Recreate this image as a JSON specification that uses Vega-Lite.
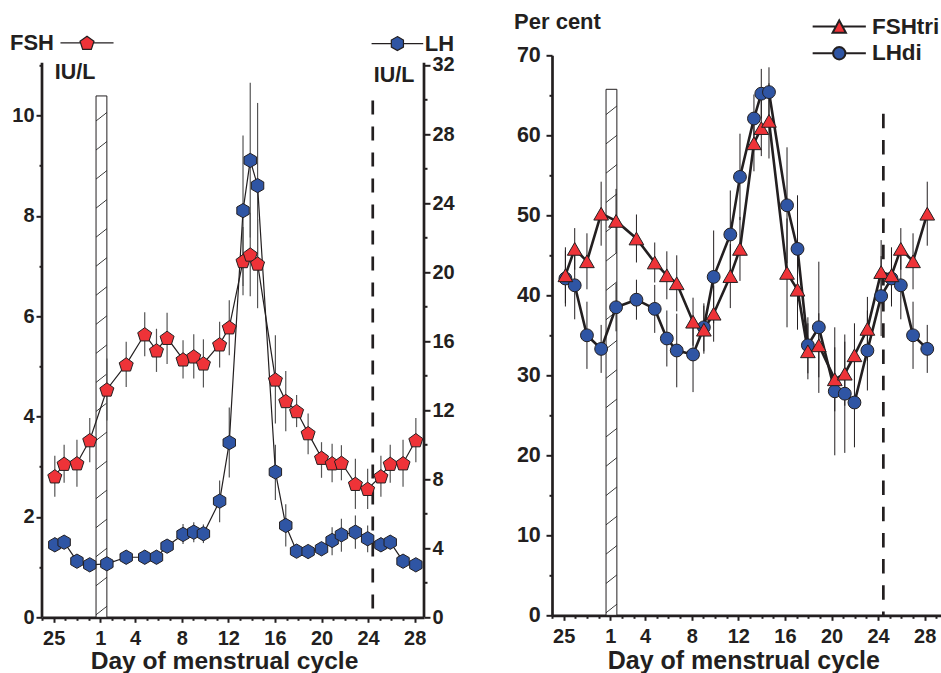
{
  "$schema": "https://vega.github.io/schema/vega-lite/v6.json",
  "padding": {"left": 10, "top": 10.3, "right": 0, "bottom": 0},
  "bounds": "flush",
  "spacing": 128,
  "config": {
    "font": "Liberation Sans",
    "view": {"stroke": null},
    "axis": {"labelFont": "Liberation Sans", "labelFontWeight": "bold", "labelFontSize": 20, "labelColor": "#231f20", "titleFont": "Liberation Sans", "titleFontWeight": "bold", "titleColor": "#231f20", "domainColor": "#231f20", "domainWidth": 2.7, "tickColor": "#231f20", "tickWidth": 2, "grid": false, "labelOverlap": false, "labelFlush": false, "labelBound": false},
    "legend": {"labelFont": "Liberation Sans", "labelFontWeight": "bold", "labelFontSize": 22, "labelColor": "#231f20", "titleFont": "Liberation Sans", "titleFontWeight": "bold", "titleFontSize": 22, "titleColor": "#231f20", "padding": 0, "symbolOpacity": 1}
  },
  "datasets": {
    "left": [
      {"t": -2.9, "fsh": 2.81, "fshLo": 2.40, "fshHi": 3.22, "lh": 4.20, "lhLo": 3.78, "lhHi": 4.62},
      {"t": -2.1, "fsh": 3.06, "fshLo": 2.68, "fshHi": 3.44, "lh": 4.35, "lhLo": 3.95, "lhHi": 4.75},
      {"t": -1.0, "fsh": 3.07, "fshLo": 2.60, "fshHi": 3.54, "lh": 3.25, "lhLo": 2.90, "lhHi": 3.60},
      {"t": 0.1, "fsh": 3.53, "fshLo": 3.09, "fshHi": 3.97, "lh": 3.04, "lhLo": 2.74, "lhHi": 3.34},
      {"t": 1.57, "fsh": 4.54, "fshLo": 3.92, "fshHi": 5.16, "lh": 3.10, "lhLo": 2.80, "lhHi": 3.40},
      {"t": 3.23, "fsh": 5.04, "fshLo": 4.59, "fshHi": 5.49, "lh": 3.48, "lhLo": 3.18, "lhHi": 3.78},
      {"t": 4.82, "fsh": 5.64, "fshLo": 5.20, "fshHi": 6.08, "lh": 3.48, "lhLo": 3.18, "lhHi": 3.78},
      {"t": 5.83, "fsh": 5.32, "fshLo": 4.89, "fshHi": 5.75, "lh": 3.48, "lhLo": 3.13, "lhHi": 3.83},
      {"t": 6.74, "fsh": 5.57, "fshLo": 5.05, "fshHi": 6.07, "lh": 4.12, "lhLo": 3.77, "lhHi": 4.47},
      {"t": 8.11, "fsh": 5.14, "fshLo": 4.76, "fshHi": 5.52, "lh": 4.80, "lhLo": 4.24, "lhHi": 5.40},
      {"t": 9.03, "fsh": 5.20, "fshLo": 4.76, "fshHi": 5.64, "lh": 4.93, "lhLo": 4.35, "lhHi": 5.51},
      {"t": 9.86, "fsh": 5.06, "fshLo": 4.58, "fshHi": 5.54, "lh": 4.84, "lhLo": 4.30, "lhHi": 5.38},
      {"t": 11.25, "fsh": 5.44, "fshLo": 4.98, "fshHi": 5.89, "lh": 6.73, "lhLo": 5.51, "lhHi": 7.93},
      {"t": 12.08, "fsh": 5.78, "fshLo": 5.22, "fshHi": 6.32, "lh": 10.12, "lhLo": 8.10, "lhHi": 12.15},
      {"t": 13.26, "fsh": 7.10, "fshLo": 6.42, "fshHi": 7.78, "lh": 23.56, "lhLo": 19.2, "lhHi": 27.92},
      {"t": 13.88, "fsh": 7.23, "fshLo": 6.40, "fshHi": 8.06, "lh": 26.47, "lhLo": 22.0, "lhHi": 30.97},
      {"t": 14.51, "fsh": 7.05, "fshLo": 6.16, "fshHi": 7.94, "lh": 25.01, "lhLo": 20.2, "lhHi": 29.8},
      {"t": 16.04, "fsh": 4.74, "fshLo": 3.86, "fshHi": 5.62, "lh": 8.42, "lhLo": 6.8, "lhHi": 10.0},
      {"t": 16.93, "fsh": 4.31, "fshLo": 3.71, "fshHi": 4.91, "lh": 5.32, "lhLo": 4.1, "lhHi": 6.55},
      {"t": 17.86, "fsh": 4.11, "fshLo": 3.79, "fshHi": 4.43, "lh": 3.83, "lhLo": 3.50, "lhHi": 4.16},
      {"t": 18.85, "fsh": 3.67, "fshLo": 3.25, "fshHi": 4.06, "lh": 3.81, "lhLo": 3.48, "lhHi": 4.14},
      {"t": 20.0, "fsh": 3.18, "fshLo": 2.78, "fshHi": 3.49, "lh": 3.97, "lhLo": 3.60, "lhHi": 4.34},
      {"t": 20.91, "fsh": 3.07, "fshLo": 2.69, "fshHi": 3.46, "lh": 4.45, "lhLo": 3.60, "lhHi": 5.22},
      {"t": 21.71, "fsh": 3.08, "fshLo": 2.73, "fshHi": 3.43, "lh": 4.78, "lhLo": 3.80, "lhHi": 5.71},
      {"t": 22.91, "fsh": 2.66, "fshLo": 2.16, "fshHi": 3.16, "lh": 4.93, "lhLo": 3.97, "lhHi": 5.90},
      {"t": 23.96, "fsh": 2.56, "fshLo": 2.16, "fshHi": 2.96, "lh": 4.55, "lhLo": 3.77, "lhHi": 5.32},
      {"t": 25.1, "fsh": 2.81, "fshLo": 2.40, "fshHi": 3.22, "lh": 4.20, "lhLo": 3.78, "lhHi": 4.62},
      {"t": 25.9, "fsh": 3.06, "fshLo": 2.68, "fshHi": 3.44, "lh": 4.35, "lhLo": 3.95, "lhHi": 4.75},
      {"t": 27.0, "fsh": 3.07, "fshLo": 2.60, "fshHi": 3.54, "lh": 3.25, "lhLo": 2.90, "lhHi": 3.60},
      {"t": 28.1, "fsh": 3.53, "fshLo": 3.09, "fshHi": 3.97, "lh": 3.04, "lhLo": 2.74, "lhHi": 3.34}
    ],
    "right": [
      {"t": -2.85, "tri": 42.5, "triLo": 39.0, "triHi": 46.0, "di": 42.1, "diLo": 38.6, "diHi": 45.6},
      {"t": -2.05, "tri": 45.8, "triLo": 43.2, "triHi": 48.4, "di": 41.25, "diLo": 37.0, "diHi": 45.5},
      {"t": -1.0, "tri": 44.25, "triLo": 40.75, "triHi": 47.75, "di": 35.0, "diLo": 30.8, "diHi": 39.2},
      {"t": 0.22, "tri": 50.2, "triLo": 46.2, "triHi": 54.2, "di": 33.3, "diLo": 30.3, "diHi": 36.3},
      {"t": 1.5, "tri": 49.3, "triLo": 45.3, "triHi": 53.3, "di": 38.5, "diLo": 35.5, "diHi": 41.5},
      {"t": 3.25, "tri": 47.1, "triLo": 44.1, "triHi": 50.1, "di": 39.45, "diLo": 36.95, "diHi": 41.95},
      {"t": 4.82, "tri": 44.1, "triLo": 41.6, "triHi": 46.6, "di": 38.3, "diLo": 35.3, "diHi": 41.3},
      {"t": 5.86, "tri": 42.5, "triLo": 39.5, "triHi": 45.5, "di": 34.6, "diLo": 31.1, "diHi": 38.1},
      {"t": 6.71, "tri": 41.5, "triLo": 38.0, "triHi": 45.0, "di": 33.1, "diLo": 28.5, "diHi": 37.7},
      {"t": 8.11, "tri": 36.7, "triLo": 33.7, "triHi": 39.7, "di": 32.6, "diLo": 27.9, "diHi": 37.3},
      {"t": 9.04, "tri": 35.7, "triLo": 32.7, "triHi": 38.7, "di": 36.0, "diLo": 33.0, "diHi": 39.0},
      {"t": 9.88, "tri": 37.7, "triLo": 34.2, "triHi": 41.2, "di": 42.3, "diLo": 36.5, "diHi": 48.1},
      {"t": 11.31, "tri": 42.4, "triLo": 38.4, "triHi": 46.4, "di": 47.6, "diLo": 42.1, "diHi": 53.1},
      {"t": 12.14, "tri": 45.8, "triLo": 41.8, "triHi": 49.8, "di": 54.8, "diLo": 49.4, "diHi": 60.2},
      {"t": 13.34, "tri": 59.0, "triLo": 55.5, "triHi": 62.5, "di": 62.1, "diLo": 59.1, "diHi": 65.1},
      {"t": 13.97, "tri": 60.9, "triLo": 57.4, "triHi": 64.4, "di": 65.2, "diLo": 62.1, "diHi": 68.3},
      {"t": 14.63, "tri": 61.8, "triLo": 57.1, "triHi": 66.5, "di": 65.4, "diLo": 62.3, "diHi": 68.5},
      {"t": 16.18, "tri": 42.8, "triLo": 36.0, "triHi": 49.6, "di": 51.25, "diLo": 44.0, "diHi": 58.5},
      {"t": 17.08, "tri": 40.7, "triLo": 35.7, "triHi": 45.7, "di": 45.8, "diLo": 39.1, "diHi": 52.5},
      {"t": 17.97, "tri": 33.0, "triLo": 29.5, "triHi": 36.5, "di": 33.75, "diLo": 30.25, "diHi": 37.25},
      {"t": 18.91, "tri": 33.75, "triLo": 29.75, "triHi": 37.75, "di": 36.0, "diLo": 27.8, "diHi": 44.2},
      {"t": 20.28, "tri": 29.5, "triLo": 25.5, "triHi": 33.5, "di": 28.0, "diLo": 20.0, "diHi": 36.0},
      {"t": 21.14, "tri": 30.2, "triLo": 26.2, "triHi": 34.2, "di": 27.7, "diLo": 20.3, "diHi": 35.1},
      {"t": 21.97, "tri": 32.5, "triLo": 28.5, "triHi": 36.5, "di": 26.6, "diLo": 21.0, "diHi": 32.2},
      {"t": 23.08, "tri": 35.8, "triLo": 31.8, "triHi": 39.8, "di": 33.1, "diLo": 28.1, "diHi": 38.1},
      {"t": 24.26, "tri": 42.9, "triLo": 38.9, "triHi": 46.9, "di": 39.9, "diLo": 34.9, "diHi": 44.9},
      {"t": 25.15, "tri": 42.5, "triLo": 39.0, "triHi": 46.0, "di": 42.1, "diLo": 38.6, "diHi": 45.6},
      {"t": 25.95, "tri": 45.8, "triLo": 43.2, "triHi": 48.4, "di": 41.25, "diLo": 37.0, "diHi": 45.5},
      {"t": 27.0, "tri": 44.25, "triLo": 40.75, "triHi": 47.75, "di": 35.0, "diLo": 30.8, "diHi": 39.2},
      {"t": 28.22, "tri": 50.2, "triLo": 46.2, "triHi": 54.2, "di": 33.3, "diLo": 30.3, "diHi": 36.3}
    ]
  },
  "hconcat": [
    {
      "width": 382,
      "height": 562,
      "encoding": {
        "x": {"field": "t", "type": "quantitative", "scale": {"domain": [-4, 28.8], "nice": false, "zero": false},
          "axis": {"values": [-4,-3,-2,-1,0,1,2,3,4,5,6,7,8,9,10,11,12,13,14,15,16,17,18,19,20,21,22,23,24,25,26,27,28],
            "labelExpr": "datum.value === -3 ? '25' : ((datum.value === 1 || (datum.value > 0 && datum.value % 4 === 0)) ? datum.label : '')",
            "tickSize": {"condition": {"test": "datum.value === -3 || datum.value === 1 || (datum.value > 0 && datum.value % 4 === 0)", "value": 5}, "value": 3},
            "labelPadding": 6, "title": "Day of menstrual cycle", "titleFontSize": 24.6, "titleX": 182, "titleY": 51.5, "titleBaseline": "alphabetic", "titleAlign": "center"}}
      },
      "layer": [
        {
          "data": {"values": [{"t": 0.64, "end": 1.57, "top": 10.39}]},
          "mark": {"type": "rect", "stroke": "#231f20", "strokeWidth": 1,
            "fill": {"gradient": "linear", "x1": 0, "y1": 0, "x2": 0.0163, "y2": 1, "stops": [
              {"offset": 0, "color": "#ffffff"},
              {"offset": 0.0462, "color": "#ffffff"}, {"offset": 0.048, "color": "#333333"}, {"offset": 0.0498, "color": "#ffffff"},
              {"offset": 0.1019, "color": "#ffffff"}, {"offset": 0.1037, "color": "#333333"}, {"offset": 0.1055, "color": "#ffffff"},
              {"offset": 0.1576, "color": "#ffffff"}, {"offset": 0.1594, "color": "#333333"}, {"offset": 0.1612, "color": "#ffffff"},
              {"offset": 0.2133, "color": "#ffffff"}, {"offset": 0.2151, "color": "#333333"}, {"offset": 0.2169, "color": "#ffffff"},
              {"offset": 0.269, "color": "#ffffff"}, {"offset": 0.2708, "color": "#333333"}, {"offset": 0.2726, "color": "#ffffff"},
              {"offset": 0.3247, "color": "#ffffff"}, {"offset": 0.3265, "color": "#333333"}, {"offset": 0.3283, "color": "#ffffff"},
              {"offset": 0.3804, "color": "#ffffff"}, {"offset": 0.3822, "color": "#333333"}, {"offset": 0.384, "color": "#ffffff"},
              {"offset": 0.4361, "color": "#ffffff"}, {"offset": 0.4379, "color": "#333333"}, {"offset": 0.4397, "color": "#ffffff"},
              {"offset": 0.4918, "color": "#ffffff"}, {"offset": 0.4936, "color": "#333333"}, {"offset": 0.4954, "color": "#ffffff"},
              {"offset": 0.5475, "color": "#ffffff"}, {"offset": 0.5493, "color": "#333333"}, {"offset": 0.5511, "color": "#ffffff"},
              {"offset": 0.6032, "color": "#ffffff"}, {"offset": 0.605, "color": "#333333"}, {"offset": 0.6068, "color": "#ffffff"},
              {"offset": 0.6589, "color": "#ffffff"}, {"offset": 0.6607, "color": "#333333"}, {"offset": 0.6625, "color": "#ffffff"},
              {"offset": 0.7146, "color": "#ffffff"}, {"offset": 0.7164, "color": "#333333"}, {"offset": 0.7182, "color": "#ffffff"},
              {"offset": 0.7703, "color": "#ffffff"}, {"offset": 0.7721, "color": "#333333"}, {"offset": 0.7739, "color": "#ffffff"},
              {"offset": 0.826, "color": "#ffffff"}, {"offset": 0.8278, "color": "#333333"}, {"offset": 0.8296, "color": "#ffffff"},
              {"offset": 0.8817, "color": "#ffffff"}, {"offset": 0.8835, "color": "#333333"}, {"offset": 0.8853, "color": "#ffffff"},
              {"offset": 0.9374, "color": "#ffffff"}, {"offset": 0.9392, "color": "#333333"}, {"offset": 0.941, "color": "#ffffff"},
              {"offset": 0.9931, "color": "#ffffff"}, {"offset": 0.9949, "color": "#333333"}, {"offset": 0.9967, "color": "#ffffff"},
              {"offset": 1, "color": "#ffffff"}]}},
          "encoding": {
            "x2": {"field": "end"},
            "y": {"field": "top", "type": "quantitative", "scale": {"domain": [0, 11.2], "nice": false, "zero": false}, "axis": null},
            "y2": {"datum": 0}
          }
        },
        {
          "data": {"values": [{"t": 24.4, "top": 10.3}]},
          "mark": {"type": "rule", "stroke": "#231f20", "strokeWidth": 2.7, "strokeDash": [14, 12]},
          "encoding": {
            "y": {"field": "top", "type": "quantitative", "scale": {"domain": [0, 11.2], "nice": false, "zero": false}, "axis": null},
            "y2": {"datum": 0}
          }
        },
        {
          "data": {"values": [{"t": -4, "top": 11.05}, {"t": 28.8, "top": 11.05}]},
          "mark": {"type": "rule", "stroke": "#231f20", "strokeWidth": 2.7},
          "encoding": {
            "y": {"field": "top", "type": "quantitative", "scale": {"domain": [0, 11.2], "nice": false, "zero": false}, "axis": null},
            "y2": {"datum": 0}
          }
        },
        {
          "data": {"name": "left"},
          "mark": {"type": "rule", "stroke": "#555555", "strokeWidth": 1.2},
          "encoding": {
            "y": {"field": "fshLo", "type": "quantitative", "scale": {"domain": [0, 11.2], "nice": false, "zero": false}, "axis": null},
            "y2": {"field": "fshHi"}
          }
        },
        {
          "data": {"name": "left"},
          "mark": {"type": "rule", "stroke": "#555555", "strokeWidth": 1.2},
          "encoding": {
            "y": {"field": "lhLo", "type": "quantitative", "scale": {"domain": [0, 32.56], "nice": false, "zero": false}, "axis": null},
            "y2": {"field": "lhHi"}
          }
        },
        {
          "data": {"name": "left"},
          "mark": {"type": "line", "stroke": "#231f20", "strokeWidth": 1.2},
          "encoding": {
            "y": {"field": "fsh", "type": "quantitative", "scale": {"domain": [0, 11.2], "nice": false, "zero": false}, "axis": null}
          }
        },
        {
          "data": {"name": "left"},
          "mark": {"type": "line", "stroke": "#231f20", "strokeWidth": 1.2},
          "encoding": {
            "y": {"field": "lh", "type": "quantitative", "scale": {"domain": [0, 32.56], "nice": false, "zero": false}, "axis": null}
          }
        },
        {
          "data": {"name": "left"},
          "mark": {"type": "point", "shape": "M0,-1L0.866,-0.5L0.866,0.5L0,1L-0.866,0.5L-0.866,-0.5Z", "size": 205, "filled": true, "fill": "#2f55a4", "stroke": "#231f20", "strokeWidth": 1, "opacity": 1},
          "encoding": {
            "y": {"field": "lh", "type": "quantitative", "scale": {"domain": [0, 32.56], "nice": false, "zero": false},
              "axis": {"orient": "right", "values": [0,2,4,6,8,10,12,14,16,18,20,22,24,26,28,30,32],
                "labelExpr": "datum.value % 4 === 0 ? datum.label : ''",
                "tickSize": {"condition": {"test": "datum.value % 4 === 0", "value": 6}, "value": 3},
                "labelPadding": 2, "domain": false, "title": "IU/L", "titleAngle": 0, "titleAlign": "left", "titleBaseline": "alphabetic", "titleX": -50.7, "titleY": 26.7, "titleFontSize": 21.5}}
          }
        },
        {
          "data": {"name": "left"},
          "mark": {"type": "point", "shape": "M0,-0.905L0.951,-0.214L0.588,0.904L-0.588,0.904L-0.951,-0.214Z", "size": 217, "filled": true, "fill": "#ee3338", "stroke": "#231f20", "strokeWidth": 1, "opacity": 1},
          "encoding": {
            "y": {"field": "fsh", "type": "quantitative", "scale": {"domain": [0, 11.2], "nice": false, "zero": false},
              "axis": {"orient": "left", "values": [0,1,2,3,4,5,6,7,8,9,10,11],
                "labelExpr": "datum.value % 2 === 0 ? datum.label : ''",
                "tickSize": {"condition": {"test": "datum.value % 2 === 0", "value": 6}, "value": 3},
                "labelPadding": 2, "domain": false, "title": "IU/L", "titleAngle": 0, "titleAlign": "left", "titleBaseline": "alphabetic", "titleX": 12.3, "titleY": 23.3, "titleFontSize": 21.5}}
          }
        },
        {
          "data": {"values": []},
          "mark": {"type": "point", "filled": true, "stroke": "#231f20", "strokeWidth": 1.2, "opacity": 1},
          "encoding": {
            "fill": {"field": "k", "type": "nominal", "scale": {"domain": ["FSH"], "range": ["#ee3338"]},
              "legend": {"orient": "none", "legendX": -32, "legendY": -23.5, "title": "FSH", "titleOrient": "left", "titlePadding": 22, "labelExpr": "''", "symbolSize": 196, "symbolStrokeWidth": 1.2}},
            "shape": {"field": "k", "type": "nominal", "scale": {"domain": ["FSH"], "range": ["M-3.79,0H-0.926M0.926,0H3.79M0,-0.95L0.999,-0.224L0.617,0.949L-0.617,0.949L-0.999,-0.224Z"]},
              "legend": {"orient": "none", "legendX": -32, "legendY": -23.5, "title": "FSH", "titleOrient": "left", "titlePadding": 22, "labelExpr": "''", "symbolSize": 196, "symbolStrokeWidth": 1.2}}
          }
        },
        {
          "data": {"values": []},
          "mark": {"type": "point", "filled": true, "stroke": "#231f20", "strokeWidth": 1.2, "opacity": 1},
          "encoding": {
            "fill": {"field": "k", "type": "nominal", "scale": {"domain": ["LH"], "range": ["#2f55a4"]},
              "legend": {"orient": "none", "legendX": 344.4, "legendY": -22.7, "title": null, "labelOffset": 16.3, "symbolSize": 196, "symbolStrokeWidth": 1.2}},
            "shape": {"field": "k", "type": "nominal", "scale": {"domain": ["LH"], "range": ["M-3.69,0H-0.866M0.866,0H3.69M0,-1L0.866,-0.5L0.866,0.5L0,1L-0.866,0.5L-0.866,-0.5Z"]},
              "legend": {"orient": "none", "legendX": 344.4, "legendY": -22.7, "title": null, "labelOffset": 16.3, "symbolSize": 196, "symbolStrokeWidth": 1.2}}
          }
        }
      ],
      "resolve": {"scale": {"y": "independent", "fill": "independent", "shape": "independent"}, "axis": {"y": "independent"}, "legend": {"fill": "independent", "shape": "independent"}}
    },
    {
      "width": 389,
      "height": 560,
      "encoding": {
        "x": {"field": "t", "type": "quantitative", "scale": {"domain": [-4, 29.4], "nice": false, "zero": false},
          "axis": {"values": [-4,-3,-2,-1,0,1,2,3,4,5,6,7,8,9,10,11,12,13,14,15,16,17,18,19,20,21,22,23,24,25,26,27,28,29],
            "labelExpr": "datum.value === -3 ? '25' : ((datum.value === 1 || (datum.value > 0 && datum.value % 4 === 0)) ? datum.label : '')",
            "tickSize": {"condition": {"test": "datum.value === -3 || datum.value === 1 || (datum.value > 0 && datum.value % 4 === 0)", "value": 5}, "value": 3},
            "labelPadding": 6, "title": "Day of menstrual cycle", "titleFontSize": 25, "titleX": 191.3, "titleY": 53.3, "titleBaseline": "alphabetic", "titleAlign": "center"}}
      },
      "layer": [
        {
          "data": {"values": [{"t": 0.64, "end": 1.57, "top": 65.75}]},
          "mark": {"type": "rect", "stroke": "#231f20", "strokeWidth": 1,
            "fill": {"gradient": "linear", "x1": 0, "y1": 0, "x2": 0.0163, "y2": 1, "stops": [
              {"offset": 0, "color": "#ffffff"},
              {"offset": 0.0462, "color": "#ffffff"}, {"offset": 0.048, "color": "#333333"}, {"offset": 0.0498, "color": "#ffffff"},
              {"offset": 0.1019, "color": "#ffffff"}, {"offset": 0.1037, "color": "#333333"}, {"offset": 0.1055, "color": "#ffffff"},
              {"offset": 0.1576, "color": "#ffffff"}, {"offset": 0.1594, "color": "#333333"}, {"offset": 0.1612, "color": "#ffffff"},
              {"offset": 0.2133, "color": "#ffffff"}, {"offset": 0.2151, "color": "#333333"}, {"offset": 0.2169, "color": "#ffffff"},
              {"offset": 0.269, "color": "#ffffff"}, {"offset": 0.2708, "color": "#333333"}, {"offset": 0.2726, "color": "#ffffff"},
              {"offset": 0.3247, "color": "#ffffff"}, {"offset": 0.3265, "color": "#333333"}, {"offset": 0.3283, "color": "#ffffff"},
              {"offset": 0.3804, "color": "#ffffff"}, {"offset": 0.3822, "color": "#333333"}, {"offset": 0.384, "color": "#ffffff"},
              {"offset": 0.4361, "color": "#ffffff"}, {"offset": 0.4379, "color": "#333333"}, {"offset": 0.4397, "color": "#ffffff"},
              {"offset": 0.4918, "color": "#ffffff"}, {"offset": 0.4936, "color": "#333333"}, {"offset": 0.4954, "color": "#ffffff"},
              {"offset": 0.5475, "color": "#ffffff"}, {"offset": 0.5493, "color": "#333333"}, {"offset": 0.5511, "color": "#ffffff"},
              {"offset": 0.6032, "color": "#ffffff"}, {"offset": 0.605, "color": "#333333"}, {"offset": 0.6068, "color": "#ffffff"},
              {"offset": 0.6589, "color": "#ffffff"}, {"offset": 0.6607, "color": "#333333"}, {"offset": 0.6625, "color": "#ffffff"},
              {"offset": 0.7146, "color": "#ffffff"}, {"offset": 0.7164, "color": "#333333"}, {"offset": 0.7182, "color": "#ffffff"},
              {"offset": 0.7703, "color": "#ffffff"}, {"offset": 0.7721, "color": "#333333"}, {"offset": 0.7739, "color": "#ffffff"},
              {"offset": 0.826, "color": "#ffffff"}, {"offset": 0.8278, "color": "#333333"}, {"offset": 0.8296, "color": "#ffffff"},
              {"offset": 0.8817, "color": "#ffffff"}, {"offset": 0.8835, "color": "#333333"}, {"offset": 0.8853, "color": "#ffffff"},
              {"offset": 0.9374, "color": "#ffffff"}, {"offset": 0.9392, "color": "#333333"}, {"offset": 0.941, "color": "#ffffff"},
              {"offset": 0.9931, "color": "#ffffff"}, {"offset": 0.9949, "color": "#333333"}, {"offset": 0.9967, "color": "#ffffff"},
              {"offset": 1, "color": "#ffffff"}]}},
          "encoding": {
            "x2": {"field": "end"},
            "y": {"field": "top", "type": "quantitative", "scale": {"domain": [0, 70], "nice": false, "zero": false}, "axis": null},
            "y2": {"datum": 0}
          }
        },
        {
          "data": {"values": [{"t": 24.45, "top": 62.7}]},
          "mark": {"type": "rule", "stroke": "#231f20", "strokeWidth": 2.7, "strokeDash": [14.5, 11.7]},
          "encoding": {
            "y": {"field": "top", "type": "quantitative", "scale": {"domain": [0, 70], "nice": false, "zero": false}, "axis": null},
            "y2": {"datum": 0}
          }
        },
        {
          "data": {"name": "right"},
          "mark": {"type": "rule", "stroke": "#231f20", "strokeWidth": 1},
          "encoding": {
            "y": {"field": "diLo", "type": "quantitative", "scale": {"domain": [0, 70], "nice": false, "zero": false}, "axis": null},
            "y2": {"field": "diHi"}
          }
        },
        {
          "data": {"name": "right"},
          "mark": {"type": "rule", "stroke": "#231f20", "strokeWidth": 1},
          "encoding": {
            "y": {"field": "triLo", "type": "quantitative", "scale": {"domain": [0, 70], "nice": false, "zero": false}, "axis": null},
            "y2": {"field": "triHi"}
          }
        },
        {
          "data": {"name": "right"},
          "mark": {"type": "line", "stroke": "#231f20", "strokeWidth": 2.6},
          "encoding": {
            "y": {"field": "di", "type": "quantitative", "scale": {"domain": [0, 70], "nice": false, "zero": false}, "axis": null}
          }
        },
        {
          "data": {"name": "right"},
          "mark": {"type": "line", "stroke": "#231f20", "strokeWidth": 2.6},
          "encoding": {
            "y": {"field": "tri", "type": "quantitative", "scale": {"domain": [0, 70], "nice": false, "zero": false}, "axis": null}
          }
        },
        {
          "data": {"name": "right"},
          "mark": {"type": "point", "shape": "circle", "size": 165, "filled": true, "fill": "#2f55a4", "stroke": "#231f20", "strokeWidth": 1, "opacity": 1},
          "encoding": {
            "y": {"field": "di", "type": "quantitative", "scale": {"domain": [0, 70], "nice": false, "zero": false},
              "axis": {"orient": "left", "values": [0,5,10,15,20,25,30,35,40,45,50,55,60,65,70],
                "labelExpr": "datum.value % 10 === 0 ? datum.label : ''",
                "tickSize": {"condition": {"test": "datum.value % 10 === 0", "value": 6}, "value": 3},
                "labelPadding": 5.7, "labelFontSize": 21.5, "title": "Per cent", "titleAngle": 0, "titleAlign": "left", "titleBaseline": "alphabetic", "titleX": -38.4, "titleY": -26.7, "titleFontSize": 22}}
          }
        },
        {
          "data": {"name": "right"},
          "mark": {"type": "point", "shape": "triangle-up", "size": 216, "filled": true, "fill": "#ee3338", "stroke": "#231f20", "strokeWidth": 1, "opacity": 1},
          "encoding": {
            "y": {"field": "tri", "type": "quantitative", "scale": {"domain": [0, 70], "nice": false, "zero": false}, "axis": null}
          }
        },
        {
          "data": {"values": []},
          "mark": {"type": "point", "filled": true, "stroke": "#231f20", "strokeWidth": 2, "opacity": 1},
          "encoding": {
            "fill": {"field": "k", "type": "nominal", "scale": {"domain": ["FSHtri", "LHdi"], "range": ["#ee3338", "#2f55a4"]},
              "legend": {"orient": "none", "legendX": 276, "legendY": -40, "title": null, "labelOffset": 21.4, "rowPadding": 3.7, "labelFontSize": 22.5, "symbolSize": 196, "symbolStrokeWidth": 2, "direction": "vertical"}},
            "shape": {"field": "k", "type": "nominal", "scale": {"domain": ["FSHtri", "LHdi"], "range": ["M-3.8,0H-0.475M0.475,0H3.8M0,-0.88L0.95,0.88L-0.95,0.88Z", "M-3.8,0H-0.88M0.88,0H3.8M0.88,0A0.88,0.88,0,1,1,-0.88,0A0.88,0.88,0,1,1,0.88,0Z"]},
              "legend": {"orient": "none", "legendX": 276, "legendY": -40, "title": null, "labelOffset": 21.4, "rowPadding": 3.7, "labelFontSize": 22.5, "symbolSize": 196, "symbolStrokeWidth": 2, "direction": "vertical"}}
          }
        }
      ],
      "resolve": {"scale": {"fill": "independent", "shape": "independent"}, "axis": {"y": "independent"}}
    }
  ]
}
